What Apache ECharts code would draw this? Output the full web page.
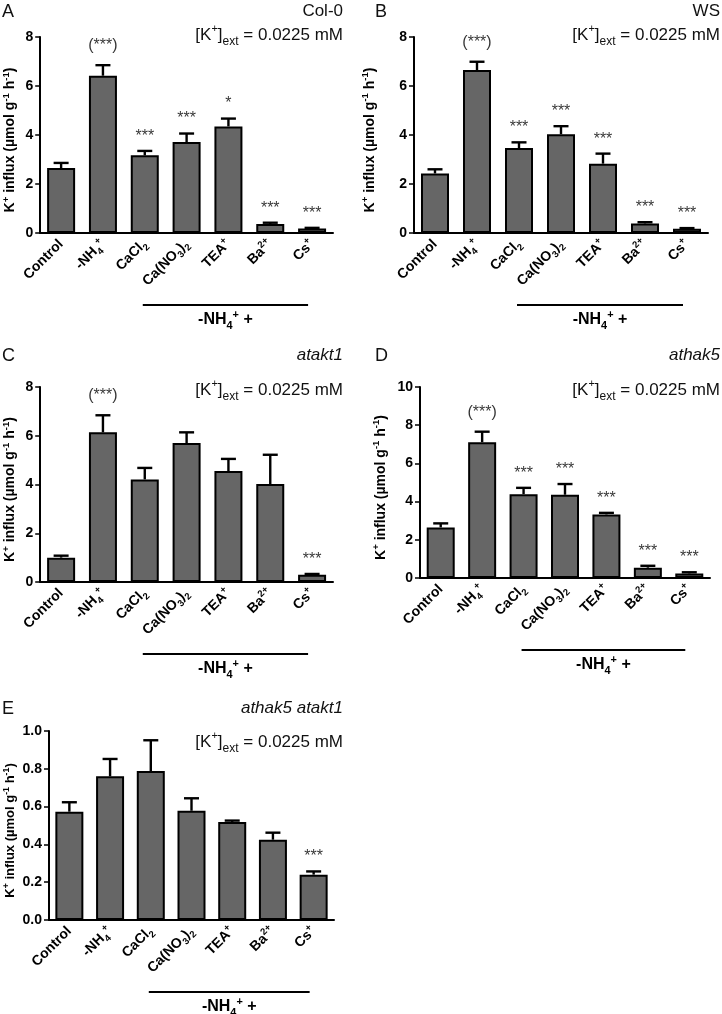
<!DOCTYPE html>
<html><head><meta charset="utf-8">
<script src="https://cdn.jsdelivr.net/npm/echarts@6/dist/echarts.min.js"></script>
<style>html,body{margin:0;padding:0;background:#fff}#c{width:722px;height:1014px}</style>
</head><body><div id="c"></div>
<script>
// ---- data ----
const categories = ['Control', '-NH4+', 'CaCl2', 'Ca(NO3)2', 'TEA+', 'Ba2+', 'Cs+'];
const categoryLabels = ['Control', '-NH{sub|4}{sup|+}', 'CaCl{sub|2}', 'Ca(NO{sub|3}){sub|2}', 'TEA{sup|+}', 'Ba{sup|2+}', 'Cs{sup|+}'];

const A_mean = [2.65, 6.42, 3.17, 3.71, 4.35, 0.37, 0.18];
const A_err  = [0.21, 0.43, 0.18, 0.35, 0.32, 0.05, 0.03];
const A_sig  = ['', '(***)', '***', '***', '*', '***', '***'];

const B_mean = [2.43, 6.65, 3.47, 4.03, 2.83, 0.39, 0.17];
const B_err  = [0.17, 0.34, 0.23, 0.33, 0.41, 0.05, 0.03];
const B_sig  = ['', '(***)', '***', '***', '***', '***', '***'];

const C_mean = [1.00, 6.14, 4.21, 5.70, 4.55, 4.02, 0.30];
const C_err  = [0.08, 0.70, 0.47, 0.44, 0.50, 1.20, 0.03];
const C_sig  = ['', '(***)', '', '', '', '', '***'];

const D_mean = [2.65, 7.11, 4.39, 4.36, 3.33, 0.54, 0.24];
const D_err  = [0.21, 0.55, 0.33, 0.56, 0.08, 0.10, 0.06];
const D_sig  = ['', '(***)', '***', '***', '***', '***', '***'];

const E_mean = [0.573, 0.760, 0.788, 0.578, 0.519, 0.425, 0.240];
const E_err  = [0.050, 0.092, 0.163, 0.066, 0.007, 0.037, 0.017];
const E_sig  = ['', '', '', '', '', '', '***'];

const panelLetters = ['A', 'B', 'C', 'D', 'E'];
const genotypes = ['Col-0', 'WS', 'atakt1', 'athak5', 'athak5 atakt1'];
const yMax = [8, 8, 8, 10, 1.0];
const yInterval = [2, 2, 2, 2, 0.2];
const conditionText = '[K{sup|+}]{sub|ext} = 0.0225 mM';
const yAxisName = 'K{sup|+} influx (µmol g{sup|-1} h{sup|-1})';
const bracketText = '-NH{sub|4}{sup|+} +';

// ---- layout / style ----
const FONT = '"Liberation Sans", Arial, Helvetica, sans-serif';
const grids = [
  {left: 39, top: 37, width: 294, height: 196},
  {left: 414, top: 37, width: 294, height: 196},
  {left: 40, top: 387, width: 293, height: 195},
  {left: 420, top: 387, width: 290, height: 191},
  {left: 49, top: 731, width: 285, height: 189}
];
const nameGaps = [21, 35, 21, 30, 30];
const panels = [
  {mean: A_mean, err: A_err, sig: A_sig},
  {mean: B_mean, err: B_err, sig: B_sig},
  {mean: C_mean, err: C_err, sig: C_sig},
  {mean: D_mean, err: D_err, sig: D_sig},
  {mean: E_mean, err: E_err, sig: E_sig}
];

const richSmall = (size, weight) => ({
  sub: {fontSize: size * 0.68, fontWeight: weight, fontFamily: FONT, verticalAlign: 'bottom', lineHeight: size * 1.25, padding: [0, 0, -size * 0.1, 0]},
  sup: {fontSize: size * 0.68, fontWeight: weight, fontFamily: FONT, verticalAlign: 'top', lineHeight: size * 1.25, padding: [-size*0.05, 0, 0, 0]}
});

const chart = echarts.init(document.getElementById('c'), null, {renderer: 'canvas'});

const xAxes = [], yAxes = [], series = [], titles = [];
panels.forEach((p, i) => {
  const g = grids[i];
  xAxes.push({
    type: 'category', gridIndex: i, data: categories,
    axisLine: {lineStyle: {color: '#000', width: 2}},
    axisTick: {alignWithLabel: true, length: 5, lineStyle: {color: '#000', width: 1.5}},
    axisLabel: {
      rotate: 45, interval: 0, margin: 9, color: '#000', fontSize: 14, fontWeight: 'bold', fontFamily: FONT,
      formatter: (v, idx) => categoryLabels[idx],
      rich: richSmall(14, 'bold')
    }
  });
  const nfs = i === 4 ? 13 : 14;
  yAxes.push({
    type: 'value', gridIndex: i, min: 0, max: yMax[i], interval: yInterval[i],
    splitLine: {show: false},
    axisLine: {show: true, lineStyle: {color: '#000', width: 2}},
    axisTick: {show: true, length: 5, lineStyle: {color: '#000', width: 1.5}},
    axisLabel: {color: '#000', fontSize: 14, fontWeight: 'bold', fontFamily: FONT, margin: 7,
      formatter: v => i === 4 ? v.toFixed(1) : String(v)},
    name: yAxisName, nameLocation: 'middle', nameRotate: 90, nameGap: nameGaps[i],
    nameTextStyle: {color: '#000', fontSize: nfs, fontWeight: 'bold', fontFamily: FONT, padding: [0, 10, 0, 0], rich: richSmall(nfs, 'bold')}
  });
  series.push({
    type: 'bar', xAxisIndex: i, yAxisIndex: i, data: p.mean, barWidth: 28,
    itemStyle: {color: '#666666', borderColor: '#000', borderWidth: 2}, z: 2
  });
  series.push({
    type: 'custom', xAxisIndex: i, yAxisIndex: i, z: 3,
    data: p.mean.map((m, j) => [j, m, m + p.err[j]]),
    renderItem: (params, api) => {
      const b = api.coord([api.value(0), api.value(1)]);
      const t = api.coord([api.value(0), api.value(2)]);
      const st = {stroke: '#000', lineWidth: 2.4};
      return {type: 'group', children: [
        {type: 'line', shape: {x1: b[0], y1: b[1], x2: t[0], y2: t[1]}, style: st},
        {type: 'line', shape: {x1: t[0] - 7.5, y1: t[1], x2: t[0] + 7.5, y2: t[1]}, style: st}
      ]};
    }
  });
  series.push({
    type: 'scatter', xAxisIndex: i, yAxisIndex: i, symbolSize: 1, z: 4,
    itemStyle: {color: 'rgba(0,0,0,0)'}, silent: true,
    data: p.mean.map((m, j) => ({
      value: [j, m + p.err[j]],
      label: {distance: p.sig[j].indexOf('(') >= 0 ? 11 : 6}
    })),
    label: {show: true, position: 'top', color: '#000', fontSize: 16, fontFamily: FONT,
      formatter: q => p.sig[q.dataIndex]}
  });
  const rightCol = i === 1 || i === 3;
  const letterLeft = rightCol ? 375 : 2;
  const textRight = rightCol ? 2 : 379;
  const topBase = i < 2 ? 0 : (i < 4 ? 344 : 697);
  titles.push({text: panelLetters[i], left: letterLeft, top: topBase + 3, padding: 0,
    textStyle: {fontSize: 18, fontWeight: 'normal', color: '#111', fontFamily: FONT}});
  titles.push({text: genotypes[i], right: textRight, top: topBase + 3, padding: 0,
    textStyle: {fontSize: 17, fontWeight: 'normal', fontStyle: i >= 2 ? 'italic' : 'normal', color: '#111', fontFamily: FONT}});
  const r = richSmall(17, 'normal');
  r.sup.fontSize = 11; r.sub.fontSize = 12;
  titles.push({text: conditionText, right: textRight, top: topBase + (i < 2 ? 24 : (i < 4 ? 35 : 34)), padding: 0,
    textStyle: {fontSize: 17, fontWeight: 'normal', color: '#111', fontFamily: FONT, lineHeight: 22, rich: r}});
});

chart.setOption({
  animation: false,
  backgroundColor: '#fff',
  title: titles,
  grid: grids.map(g => Object.assign({containLabel: false}, g)),
  xAxis: xAxes, yAxis: yAxes, series: series
});

// bracket under the "-NH4+ +" treatments, anchored on category positions
const graphics = [];
panels.forEach((p, i) => {
  const g = grids[i];
  const x1 = chart.convertToPixel({xAxisIndex: i}, categories[2]) - 2;
  const x2 = chart.convertToPixel({xAxisIndex: i}, categories[6]) - 4;
  const yb = g.top + g.height;
  graphics.push({type: 'line', shape: {x1: x1, y1: yb + 72, x2: x2, y2: yb + 72}, style: {stroke: '#000', lineWidth: 2}});
  graphics.push({type: 'text', x: (x1 + x2) / 2, y: yb + 87,
    style: {text: bracketText, fill: '#000', fontSize: 16, fontWeight: 'bold', fontFamily: FONT,
      align: 'center', verticalAlign: 'middle', rich: richSmall(16, 'bold')}});
});
chart.setOption({graphic: graphics});
</script></body></html>
